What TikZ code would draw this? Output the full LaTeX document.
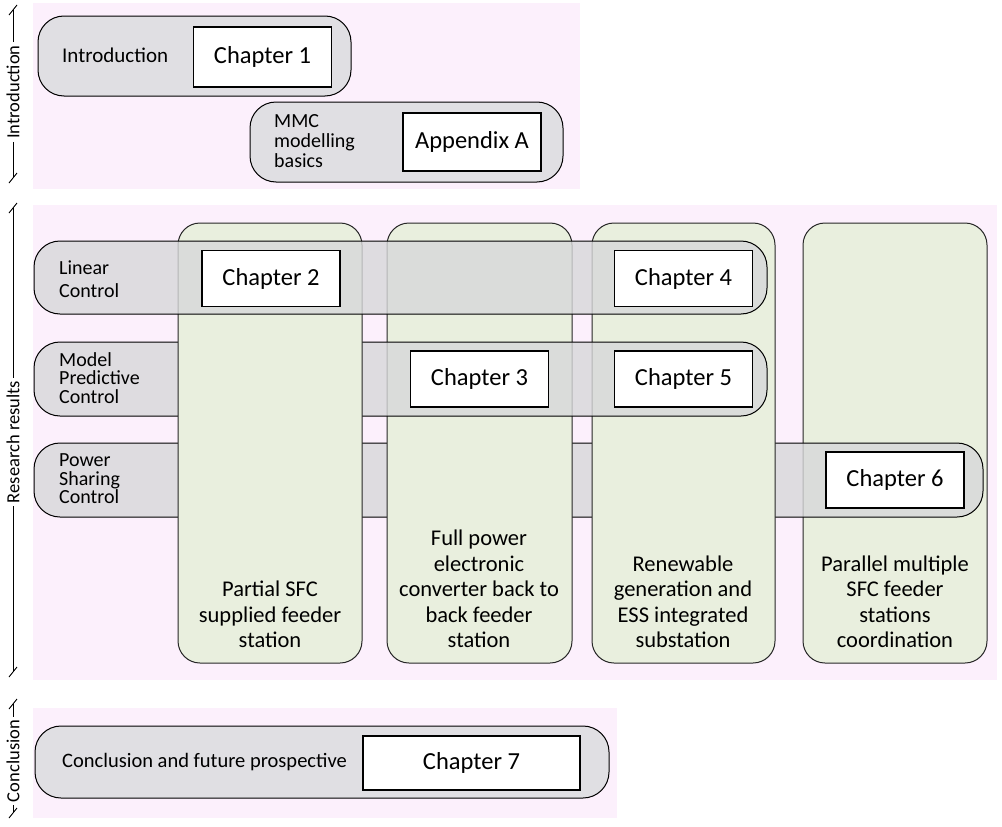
\documentclass[tikz,border=0pt]{standalone}
\usepackage{fontspec}
\setmainfont{Carlito}
\usetikzlibrary{fit}
\definecolor{bgpink}{RGB}{252,240,252}
\definecolor{rowgrey}{RGB}{224,223,227}
\definecolor{rowtrans}{RGB}{215,216,218}
\definecolor{colgreen}{RGB}{233,239,222}
\tikzset{
  bgbox/.style={fill=bgpink, draw=none, inner sep=0pt, outer sep=0pt},
  solidrow/.style={draw=black, line width=1pt, fill=rowgrey, rounded corners=26pt, inner sep=0pt, outer sep=0pt},
  transrow/.style={draw=black, line width=1pt, fill=rowtrans, fill opacity=0.8, rounded corners=26pt, inner sep=0pt, outer sep=0pt},
  colbox/.style={draw=black!85, line width=1pt, fill=colgreen, rounded corners=22pt, inner sep=0pt, outer sep=0pt},
  chap/.style={draw=black, line width=1.2pt, fill=white, inner sep=0pt, outer sep=0pt, minimum width=138pt, minimum height=56pt, font=\fontsize{24.5}{28}\selectfont},
  rowlabel/.style={anchor=west, align=left, inner sep=0pt, font=\fontsize{20}{18.5}\selectfont},
  collabel/.style={anchor=south, align=center, inner sep=0pt, font=\fontsize{22.5}{25.5}\selectfont},
  sidelabel/.style={rotate=90, inner sep=3pt, font=\fontsize{18.5}{20}\selectfont},
  braceline/.style={draw=black, line width=0.9pt}
}
\begin{document}
\begin{tikzpicture}[x=1pt,y=-1pt]
\useasboundingbox (0,0) rectangle (1002,827);
% backgrounds
\node[bgbox, fit={(33,3) (580,189)}] (bgI) {};
\node[bgbox, fit={(33,205) (997,680)}] (bgR) {};
\node[bgbox, fit={(33,708) (617,818)}] (bgC) {};
% introduction rows
\node[solidrow, fit={(38,16) (351,96)}] (rIntro) {};
\node[chap, minimum height=60pt] (ch1) at (262.5,57) {Chapter 1};
\node[rowlabel, font=\fontsize{21}{20}\selectfont] (lIntro) at (62,55) {Introduction};
\node[solidrow, fit={(250,102) (563,182)}] (rMMC) {};
\node[chap, minimum height=58pt] (appA) at (472,142) {Appendix A};
\node[rowlabel, font=\fontsize{20}{20}\selectfont] (lMMC) at (274,141) {MMC\\modelling\\basics};
% research: layered
\node[colbox, fit={(803,223) (987,663)}] (col4) {};
\node[transrow, fit={(34,443) (983,517)}] (rPow) {};
\node[colbox, fit={(387,223) (572,663)}] (col2) {};
\node[colbox, fit={(592,223) (775,663)}] (col3) {};
\node[transrow, fit={(34,342) (767,416)}] (rMPC) {};
\node[colbox, fit={(178,223) (362,663)}] (col1) {};
\node[transrow, fit={(34,241) (767,314)}] (rLin) {};
\node[chap] (ch2) at (271,278.5) {Chapter 2};
\node[chap] (ch4) at (683.5,278.5) {Chapter 4};
\node[chap] (ch3) at (479.5,379) {Chapter 3};
\node[chap] (ch5) at (683.5,379) {Chapter 5};
\node[chap] (ch6) at (895,480) {Chapter 6};
\node[rowlabel, font=\fontsize{20}{23}\selectfont] (lLin) at (59,279) {Linear\\Control};
\node[rowlabel] (lMPC) at (59,378) {Model\\Predictive\\Control};
\node[rowlabel] (lPow) at (59,479) {Power\\Sharing\\Control};
\node[collabel] (tc1) at (270,648) {Partial SFC\\supplied feeder\\station};
\node[collabel] (tc2) at (479,648) {Full power\\electronic\\converter back to\\back feeder\\station};
\node[collabel] (tc3) at (683,648) {Renewable\\generation and\\ESS integrated\\substation};
\node[collabel] (tc4) at (895,648) {Parallel multiple\\SFC feeder\\stations\\coordination};
% conclusion
\node[solidrow, fit={(35,726) (609,798)}] (rConc) {};
\node[chap, minimum width=217pt, minimum height=54pt] (ch7) at (471.5,763) {Chapter 7};
\node[rowlabel, font=\fontsize{20.5}{20}\selectfont] (lConc) at (62,762) {Conclusion and future prospective};
% side braces
\node[sidelabel] (sI) at (13,92) {Introduction};
\coordinate (sItop) at (13,10);
\coordinate (sIbot) at (13,178);
\draw[braceline] (sI.east) -- (sItop);
\draw[braceline] (sI.west) -- (sIbot);
\draw[braceline] (sItop) ++(-4,5) -- ++(8,-10);
\draw[braceline] (sIbot) ++(-4,5) -- ++(8,-10);
\node[sidelabel] (sR) at (13,442) {Research results};
\coordinate (sRtop) at (13,208);
\coordinate (sRbot) at (13,672);
\draw[braceline] (sR.east) -- (sRtop);
\draw[braceline] (sR.west) -- (sRbot);
\draw[braceline] (sRtop) ++(-4,5) -- ++(8,-10);
\draw[braceline] (sRbot) ++(-4,5) -- ++(8,-10);
\node[sidelabel] (sC) at (13,761) {Conclusion};
\coordinate (sCtop) at (13,704);
\coordinate (sCbot) at (13,813);
\draw[braceline] (sC.east) -- (sCtop);
\draw[braceline] (sC.west) -- (sCbot);
\draw[braceline] (sCtop) ++(-4,5) -- ++(8,-10);
\draw[braceline] (sCbot) ++(-4,5) -- ++(8,-10);
\end{tikzpicture}
\end{document}
